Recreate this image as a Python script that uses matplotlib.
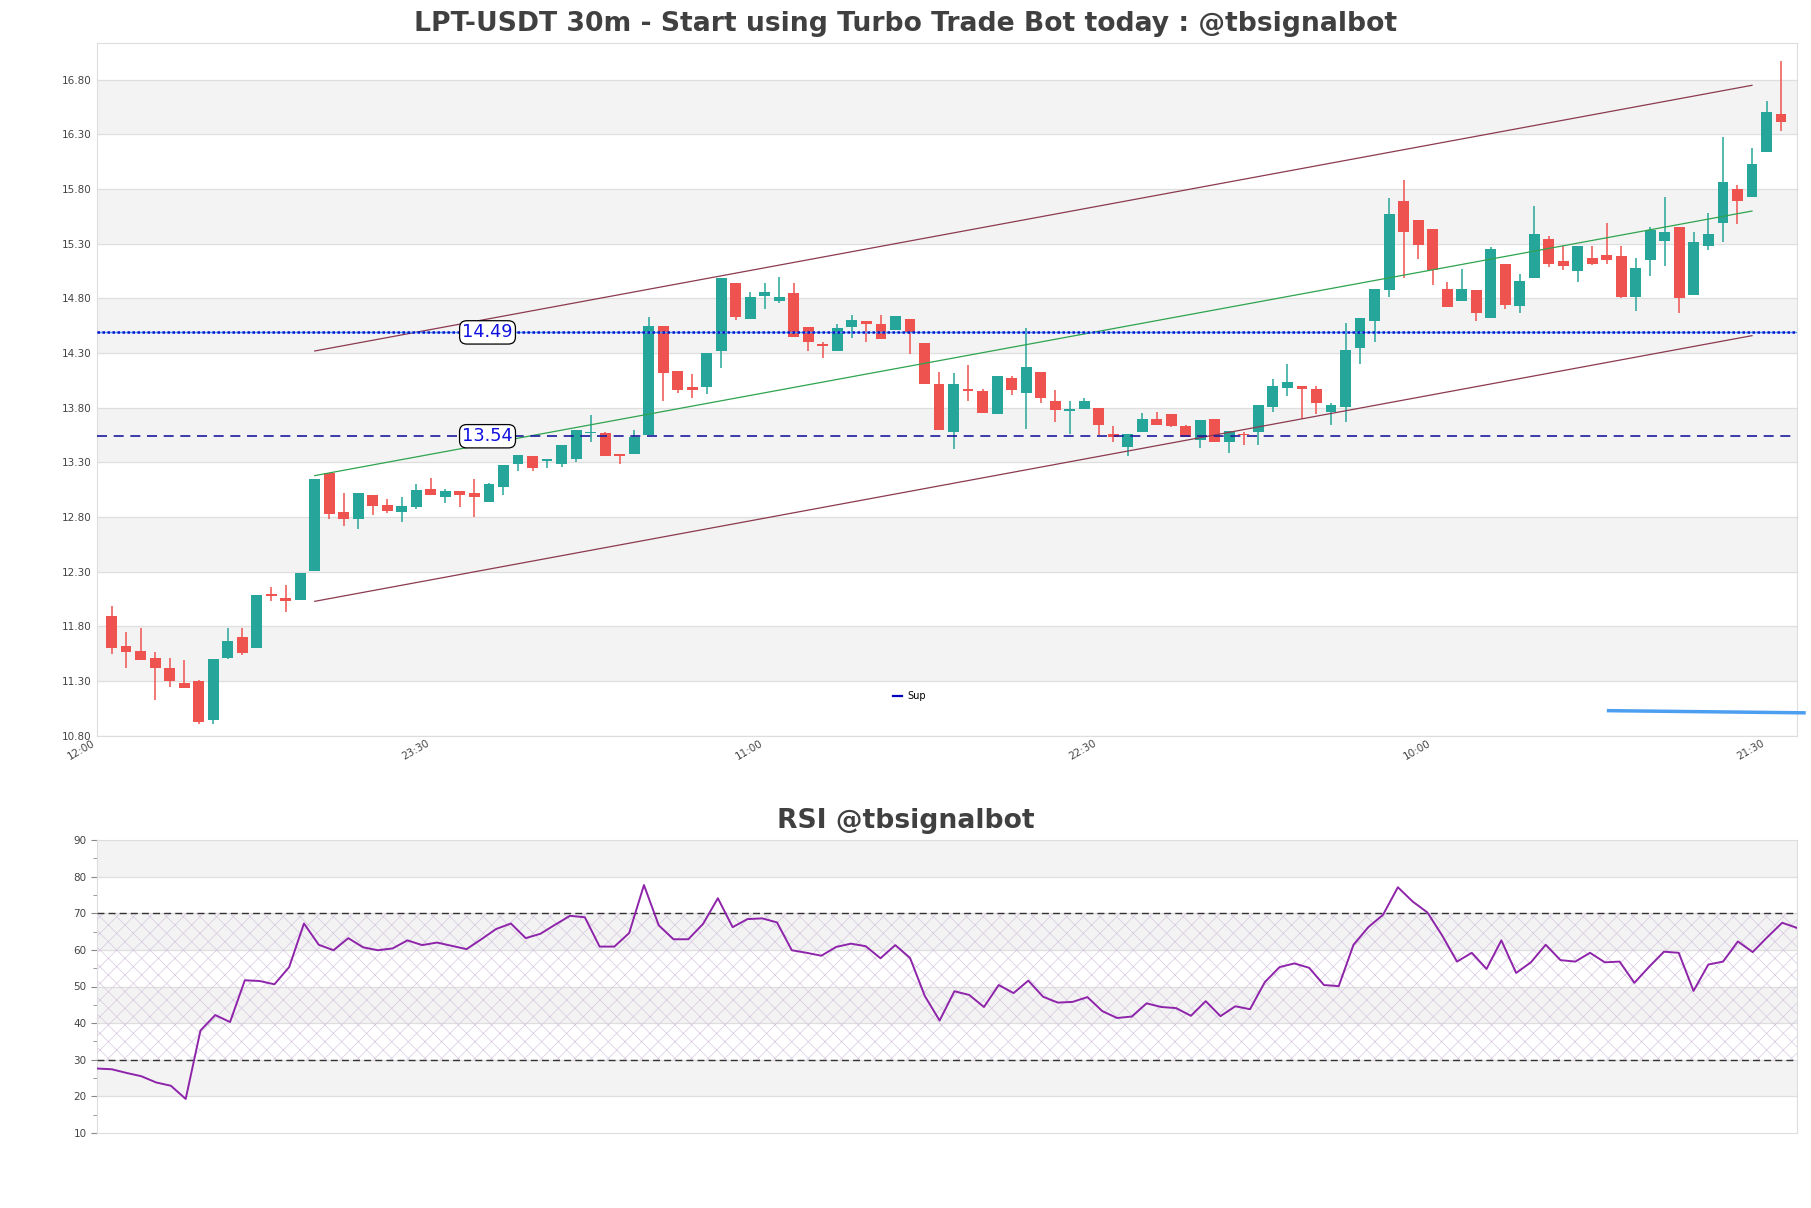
import matplotlib
matplotlib.use("Agg")
import matplotlib.pyplot as plt
from matplotlib.lines import Line2D
import numpy as np

# ---------------- data ----------------
opens = [11.90, 11.62, 11.58, 11.51, 11.42, 11.28, 11.30, 10.94, 11.51, 11.70,
         11.60, 12.10, 12.06, 12.04, 12.31, 13.20, 12.85, 12.78, 13.00, 12.91,
         12.85, 12.89, 13.06, 12.98, 13.04, 13.02, 12.94, 13.08, 13.29, 13.36,
         13.31, 13.29, 13.33, 13.57, 13.57, 13.38, 13.38, 13.55, 14.55, 14.14,
         13.99, 13.99, 14.32, 14.94, 14.61, 14.82, 14.78, 14.85, 14.54, 14.38,
         14.32, 14.54, 14.59, 14.57, 14.51, 14.61, 14.39, 14.02, 13.58, 13.97,
         13.95, 13.74, 14.07, 13.94, 14.13, 13.86, 13.77, 13.79, 13.80, 13.56,
         13.44, 13.58, 13.70, 13.74, 13.63, 13.51, 13.70, 13.49, 13.56, 13.58,
         13.81, 13.98, 14.00, 13.97, 13.76, 13.81, 14.35, 14.59, 14.88, 15.69,
         15.52, 15.44, 14.89, 14.78, 14.88, 14.62, 15.12, 14.73, 14.99, 15.34,
         15.14, 15.05, 15.17, 15.20, 15.19, 14.81, 15.15, 15.33, 15.45, 14.83,
         15.28, 15.49, 15.80, 15.73, 16.14, 16.49]
highs = [11.99, 11.75, 11.79, 11.57, 11.51, 11.49, 11.31, 11.50, 11.79, 11.79,
         12.09, 12.16, 12.18, 12.29, 13.15, 13.20, 13.02, 13.02, 13.00, 12.97,
         12.98, 13.10, 13.16, 13.06, 13.04, 13.15, 13.11, 13.28, 13.37, 13.36,
         13.33, 13.46, 13.60, 13.73, 13.58, 13.38, 13.60, 14.63, 14.55, 14.14,
         14.11, 14.30, 14.99, 14.94, 14.86, 14.94, 15.00, 14.94, 14.54, 14.40,
         14.57, 14.65, 14.59, 14.65, 14.64, 14.61, 14.39, 14.13, 14.12, 14.19,
         13.97, 14.09, 14.09, 14.53, 14.13, 13.96, 13.86, 13.89, 13.80, 13.63,
         13.56, 13.75, 13.76, 13.74, 13.64, 13.69, 13.70, 13.59, 13.58, 13.83,
         14.06, 14.20, 14.00, 14.00, 13.84, 14.58, 14.62, 14.89, 15.72, 15.88,
         15.52, 15.44, 14.95, 15.07, 14.88, 15.27, 15.12, 15.02, 15.65, 15.37,
         15.28, 15.28, 15.28, 15.49, 15.28, 15.17, 15.45, 15.73, 15.45, 15.41,
         15.58, 16.28, 15.84, 16.18, 16.61, 16.97]
lows = [11.55, 11.42, 11.49, 11.13, 11.25, 11.24, 10.91, 10.91, 11.50, 11.54,
        11.60, 12.03, 11.93, 12.04, 12.31, 12.78, 12.72, 12.69, 12.82, 12.84,
        12.76, 12.87, 13.00, 12.93, 12.89, 12.80, 12.94, 13.00, 13.22, 13.22,
        13.25, 13.26, 13.30, 13.49, 13.36, 13.29, 13.38, 13.55, 13.86, 13.94,
        13.89, 13.93, 14.16, 14.60, 14.61, 14.70, 14.76, 14.45, 14.32, 14.26,
        14.32, 14.44, 14.40, 14.43, 14.51, 14.29, 14.02, 13.60, 13.42, 13.86,
        13.75, 13.74, 13.92, 13.61, 13.84, 13.67, 13.56, 13.79, 13.55, 13.49,
        13.36, 13.58, 13.64, 13.62, 13.53, 13.43, 13.49, 13.39, 13.46, 13.46,
        13.76, 13.91, 13.70, 13.74, 13.64, 13.67, 14.20, 14.40, 14.81, 14.99,
        15.16, 14.92, 14.72, 14.78, 14.59, 14.62, 14.70, 14.67, 14.99, 15.09,
        15.06, 14.95, 15.11, 15.12, 14.80, 14.69, 15.01, 15.10, 14.67, 14.83,
        15.24, 15.32, 15.48, 15.73, 16.14, 16.33]
closes = [11.60, 11.57, 11.49, 11.42, 11.30, 11.24, 10.93, 11.50, 11.67, 11.56,
          12.09, 12.08, 12.03, 12.29, 13.15, 12.83, 12.78, 13.02, 12.90, 12.86,
          12.90, 13.05, 13.00, 13.04, 13.00, 12.98, 13.10, 13.28, 13.37, 13.25,
          13.33, 13.46, 13.60, 13.58, 13.36, 13.36, 13.53, 14.55, 14.12, 13.96,
          13.96, 14.30, 14.99, 14.63, 14.81, 14.86, 14.81, 14.45, 14.40, 14.37,
          14.53, 14.60, 14.57, 14.43, 14.64, 14.49, 14.02, 13.60, 14.02, 13.95,
          13.75, 14.09, 13.96, 14.17, 13.89, 13.78, 13.79, 13.86, 13.64, 13.53,
          13.56, 13.70, 13.64, 13.63, 13.53, 13.69, 13.49, 13.59, 13.55, 13.83,
          14.00, 14.04, 13.97, 13.84, 13.83, 14.33, 14.62, 14.89, 15.57, 15.41,
          15.29, 15.06, 14.72, 14.89, 14.67, 15.25, 14.74, 14.96, 15.39, 15.12,
          15.10, 15.28, 15.12, 15.15, 14.81, 15.08, 15.43, 15.41, 14.80, 15.32,
          15.39, 15.87, 15.69, 16.03, 16.51, 16.41]

rsi = [27.6, 27.4, 26.4, 25.5, 23.8, 22.9, 19.3, 38.0, 42.2, 40.3,
       51.7, 51.5, 50.6, 55.3, 67.2, 61.4, 59.9, 63.2, 60.7, 59.9,
       60.4, 62.6, 61.3, 62.0, 61.1, 60.2, 62.9, 65.7, 67.2, 63.2,
       64.4, 66.9, 69.3, 68.9, 60.9, 60.9, 64.6, 77.7, 66.7, 62.9,
       62.9, 67.1, 74.1, 66.2, 68.4, 68.6, 67.5, 59.9, 59.2, 58.4,
       60.8, 61.7, 61.0, 57.7, 61.3, 57.8, 47.4, 40.7, 48.7, 47.7,
       44.4, 50.4, 48.2, 51.6, 47.2, 45.6, 45.8, 47.1, 43.3, 41.4,
       41.8, 45.4, 44.4, 44.1, 42.0, 46.0, 41.9, 44.6, 43.8, 51.2,
       55.3, 56.3, 55.1, 50.4, 50.1, 61.4, 66.2, 69.6, 77.1, 73.2,
       70.2, 63.9, 56.8, 59.2, 54.8, 62.6, 53.7, 56.6, 61.4, 57.2,
       56.8, 59.2, 56.6, 56.8, 51.0, 55.4, 59.5, 59.2, 48.8, 56.0,
       56.8, 62.3, 59.4, 63.5, 67.4, 66.0]

tick_pos = [0, 23, 46, 69, 92, 115]
tick_labels = ["12:00", "23:30", "11:00", "22:30", "10:00", "21:30"]

resistance = 14.49
support = 13.54

chan_x = [15, 114]
chan_upper = [14.32, 16.75]
chan_mid = [13.18, 15.60]
chan_lower = [12.03, 14.46]

blue_x = [104.0, 117.7]
blue_y = [11.03, 11.01]

# ---------------- figure ----------------
W, H = 1811, 1208
plt.rcParams["hatch.linewidth"] = 0.45
fig = plt.figure(figsize=(W / 100, H / 100), dpi=100)

def fx(px):
    return px / W

def fy(py):
    return 1 - py / H

ax = fig.add_axes([fx(97), fy(735.7), fx(1797 - 97), (735.7 - 42.7) / H])
rax = fig.add_axes([fx(97), fy(1133), fx(1797 - 97), (1133 - 840) / H])

n = len(closes)
xs = np.arange(1, n + 1)
up_c, dn_c = "#26a69a", "#ef5350"

ymin = min(lows) * 0.99
ymax = max(highs) * 1.01
yticks = np.arange(ymin, ymax, 0.5)

# background bands
for k in range(len(yticks) - 1):
    if k % 2 == 1:
        ax.axhspan(yticks[k], yticks[k + 1], color="#f3f3f3", zorder=0, lw=0)
for t in yticks:
    ax.axhline(t, color="#dedede", lw=0.9, zorder=0.5)

# candles
for x, o, h, l, c in zip(xs, opens, highs, lows, closes):
    col = up_c if c >= o else dn_c
    ax.vlines(x, l, h, color=col, lw=1.1, zorder=2)
    ax.bar(x, abs(c - o) if abs(c - o) > 0.008 else 0.008, bottom=min(o, c),
           width=0.75, color=col, zorder=3, lw=0)

# channel
ax.plot(chan_x, chan_upper, color="#8b3a4f", lw=0.9, zorder=4)
ax.plot(chan_x, chan_lower, color="#8b3a4f", lw=0.9, zorder=4)
ax.plot(chan_x, chan_mid, color="#2ea44f", lw=0.9, zorder=4)

# horizontal levels
ax.axhline(resistance, color="#3fa0ff", lw=1.0, zorder=4)
ax.axhline(resistance, color="#1010c8", lw=1.8, ls=(0, (1, 1)), zorder=4)
ax.axhline(support, color="#1a1a9e", lw=1.2, ls=(0, (6, 4)), zorder=4)

box = dict(boxstyle="round,pad=0.15,rounding_size=0.4", fc="white", ec="black", lw=0.9)
for lv in (resistance, support):
    ax.text(26.9, lv, f"{lv:.2f}", color="#1010e0", fontsize=12.8, ha="center",
            va="center", bbox=box, zorder=6)

# blue line outside
ax.plot(blue_x, blue_y, color="#4c9ff0", lw=2.5, clip_on=False, zorder=5,
        solid_capstyle="butt")

ax.set_xlim(0, 117.1)
ax.set_ylim(ymin, ymax)
ax.set_yticks(yticks)
ax.set_yticklabels([f"{t:.2f}" for t in yticks])
ax.set_xticks(tick_pos)
ax.set_xticklabels(tick_labels, rotation=30, ha="right", va="top")
ax.tick_params(axis="both", length=0, labelsize=7.5, labelcolor="#444444", pad=4)
ax.tick_params(axis="x", pad=2)
for sp in ax.spines.values():
    sp.set_color("#dddddd")

leg = ax.legend([Line2D([0], [0], color="#0000c0", lw=1.6)], ["Sup"],
                loc="center", bbox_to_anchor=(0.478, 0.057), frameon=False,
                fontsize=7, handlelength=0.9, handletextpad=0.6)

# ---------------- RSI ----------------
rx = np.arange(len(rsi))
for lo in (20, 40, 60, 80):
    rax.axhspan(lo, lo + 10, color="#f3f3f3", lw=0, zorder=0)
for t in range(20, 90, 10):
    rax.axhline(t, color="#dedede", lw=0.9, zorder=0.5)
rax.fill_between([0, len(rsi) - 1], 30, 70, facecolor="none", hatch="xx",
                 edgecolor="#d4c4de", lw=0, zorder=1)
rax.axhline(70, color="#333333", lw=1.0, ls=(0, (5, 3)), zorder=3)
rax.axhline(30, color="#333333", lw=1.0, ls=(0, (5, 3)), zorder=3)
rax.plot(rx, rsi, color="#8e24aa", lw=1.4, zorder=4)
rax.set_xlim(0, len(rsi) - 1)
rax.set_ylim(10, 90)
rax.set_yticks(range(10, 91, 10))
rax.set_yticks(range(15, 90, 10), minor=True)
rax.set_xticks([])
rax.tick_params(axis="y", which="major", length=4, color="#888888", labelsize=7.5,
                labelcolor="#444444")
rax.tick_params(axis="y", which="minor", length=3, color="#888888")
for sp in rax.spines.values():
    sp.set_color("#dddddd")

fig.text(0.5, fy(24), "LPT-USDT 30m - Start using Turbo Trade Bot today : @tbsignalbot",
         ha="center", va="center", fontsize=19.2, fontweight="bold", color="#404040")
fig.text(0.5, fy(821), "RSI @tbsignalbot", ha="center", va="center",
         fontsize=19.2, fontweight="bold", color="#404040")

fig.savefig("out.png", dpi=100, facecolor="white")
